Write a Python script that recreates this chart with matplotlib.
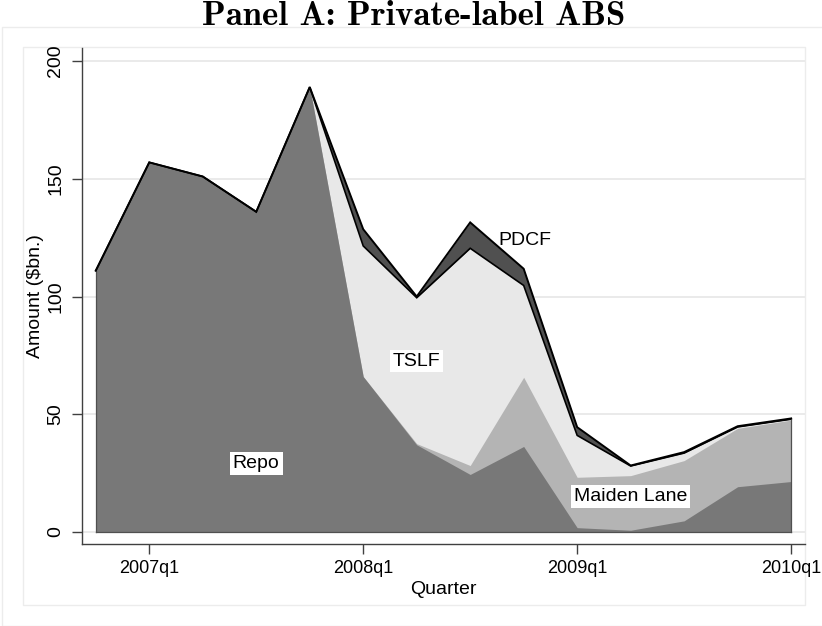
import matplotlib
matplotlib.use("Agg")
import matplotlib.pyplot as plt
from matplotlib.patches import Rectangle
import numpy as np

# ---- data (amounts in $bn, 2006q4 .. 2010q1) ----
quarters = ["2006q4", "2007q1", "2007q2", "2007q3", "2007q4",
            "2008q1", "2008q2", "2008q3", "2008q4",
            "2009q1", "2009q2", "2009q3", "2009q4", "2010q1"]
repo = [111, 157, 151, 136, 189, 66, 37, 24.4, 36.3, 1.8, 0.7, 4.7, 19.2, 21.4]
maiden_lane = [0, 0, 0, 0, 0, 0, 0.5, 3.8, 29.4, 21.4, 23.2, 25.6, 24.8, 26.1]
tslf = [0, 0, 0, 0, 0, 55.5, 62, 92.3, 39, 17.8, 4.1, 3.2, 0.6, 0.4]
pdcf = [0, 0, 0, 0, 0, 7.1, 0.5, 11, 7.1, 3.5, 0.2, 0.4, 0.3, 0.3]
tick_labels = ["2007q1", "2008q1", "2009q1", "2010q1"]
yticks = [0, 50, 100, 150, 200]

x = np.arange(len(quarters))
c_repo = np.array(repo)
c_ml = c_repo + np.array(maiden_lane)
c_tslf = c_ml + np.array(tslf)
c_tot = c_tslf + np.array(pdcf)

W, H = 822, 626
fig = plt.figure(figsize=(W / 100, H / 100), dpi=100)
fig.patch.set_facecolor("white")

# Stata-like frames
fig.add_artist(Rectangle((2 / W, 0), 1.0, (H - 27) / H, transform=fig.transFigure,
                         facecolor="white", edgecolor="#ececec", lw=1.0, zorder=0))
fig.add_artist(Rectangle((22.7 / W, (H - 605) / H), (804.5 - 22.7) / W, (605 - 47) / H,
                         transform=fig.transFigure, facecolor="white",
                         edgecolor="#ececec", lw=1.0, zorder=0))

ax = fig.add_axes([82.3 / W, (H - 544.3) / H, (804.5 - 82.3) / W, (544.3 - 48) / H])
ax.set_facecolor("none")
ax.set_zorder(1)

font = "Liberation Sans"
fs = 14

ax.set_xlim(-0.252, 13.25)
ax.set_ylim(-5.27, 205.6)

ax.grid(axis="y", color="#eaeaea", lw=1.4, zorder=0)
ax.set_axisbelow(True)

ax.fill_between(x, 0, c_tot, color="#505050", lw=0, zorder=2)
ax.fill_between(x, 0, c_tslf, color="#e8e8e8", lw=0, zorder=3)
ax.fill_between(x, 0, c_ml, color="#b4b4b4", lw=0, zorder=4)
ax.fill_between(x, 0, c_repo, color="#787878", lw=0, zorder=5)

ax.plot(x, c_tslf, color="black", lw=1.2, zorder=6, solid_joinstyle="miter")
ax.plot(x, c_tot, color="black", lw=1.4, zorder=7, solid_joinstyle="miter")
ax.plot([x[0], x[-1]], [0, 0], color="#505050", lw=0.9, zorder=6)
ax.plot([x[0], x[0]], [0, c_tot[0]], color="#505050", lw=0.9, zorder=6)
ax.plot([x[-1], x[-1]], [0, c_tot[-1]], color="#505050", lw=0.9, zorder=6)

box = dict(boxstyle="square,pad=0.15", facecolor="white", edgecolor="none")
ax.text(8.03, 123.8, "PDCF", fontsize=fs, family=font, ha="center", va="center", zorder=8)
ax.text(6.0, 72.6, "TSLF", fontsize=fs, family=font, ha="center", va="center", bbox=box, zorder=8)
ax.text(3.0, 28.9, "Repo", fontsize=fs, family=font, ha="center", va="center", bbox=box, zorder=8)
ax.text(10.0, 14.9, "Maiden Lane", fontsize=fs, family=font, ha="center", va="center", bbox=box, zorder=8)

ax.set_xticks([quarters.index(t) for t in tick_labels])
ax.set_xticklabels(tick_labels, family=font, fontsize=13)
ax.set_yticks(yticks)
ax.set_yticklabels([str(v) for v in yticks], family=font, fontsize=fs, rotation=90, va="center")
ax.tick_params(axis="both", direction="out", length=7, width=1, color="#404040", pad=4)
ax.tick_params(axis="y", pad=6)

for s in ["top", "right"]:
    ax.spines[s].set_visible(False)
for s in ["left", "bottom"]:
    ax.spines[s].set_color("#404040")
    ax.spines[s].set_linewidth(1.0)

ax.set_xlabel("Quarter", family=font, fontsize=fs, labelpad=3)
ax.set_ylabel("Amount ($bn.)", family=font, fontsize=fs, labelpad=2)

fig.text(414 / W, 1 - 25 / H, "Panel A: Private-label ABS", family="cmb10", fontsize=25,
         ha="center", va="baseline")

fig.savefig("out.png", dpi=100)
